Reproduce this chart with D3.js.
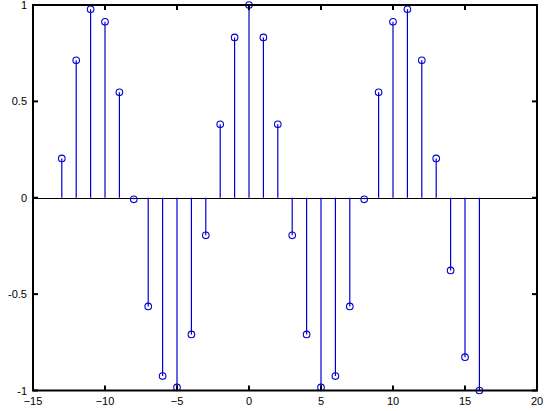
<!DOCTYPE html>
<html>
<head>
<meta charset="utf-8">
<script src="https://cdn.jsdelivr.net/npm/d3@7"></script>
<style>
  html, body { margin: 0; padding: 0; background: #fff; }
  svg { display: block; }
  .tick-label { font-family: "Liberation Sans", Arial, sans-serif; font-size: 11px; fill: #000; }
</style>
</head>
<body>
<div id="chart"></div>
<script>
// Sample indices and stem values
const nValues = [-13, -12, -11, -10, -9, -8, -7, -6, -5, -4, -3, -2, -1, 0, 1, 2,
                 3, 4, 5, 6, 7, 8, 9, 10, 11, 12, 13, 14, 15, 16];
const stemValues = [0.204, 0.713, 0.978, 0.913, 0.547, -0.008, -0.564, -0.925, -0.984, -0.709, -0.195, 0.381, 0.832, 1.0, 0.832, 0.381,
                    -0.195, -0.709, -0.984, -0.925, -0.564, -0.008, 0.547, 0.913, 0.978, 0.713, 0.204, -0.377, -0.827, -1.0];
const xTicks = [-15, -10, -5, 0, 5, 10, 15, 20];
const yTicks = [-1, -0.5, 0, 0.5, 1];
const xDomain = [-15, 20];
const yDomain = [-1, 1];

const width = 547, height = 411;
const margin = { top: 5, right: 10, bottom: 20.5, left: 33 };
const stemColor = '#0000d0';

const svg = d3.select('#chart').append('svg')
  .attr('width', width)
  .attr('height', height);

const xScale = d3.scaleLinear().domain(xDomain).range([margin.left, width - margin.right]);
const yScale = d3.scaleLinear().domain(yDomain).range([height - margin.bottom, margin.top]);

const points = nValues.map((n, i) => ({ n: n, v: stemValues[i] }));

// Baseline across the axes
svg.append('line')
  .attr('x1', xScale(xDomain[0])).attr('x2', xScale(xDomain[1]))
  .attr('y1', Math.round(yScale(0)) + 0.5).attr('y2', Math.round(yScale(0)) + 0.5)
  .style('stroke', '#000').style('stroke-width', '1px');

// Stems
svg.selectAll('.stem')
  .data(points)
  .enter()
  .append('line')
  .attr('class', 'stem')
  .attr('x1', d => xScale(d.n)).attr('x2', d => xScale(d.n))
  .attr('y1', yScale(0)).attr('y2', d => yScale(d.v))
  .style('stroke', stemColor).style('stroke-width', '1.2px');

// Markers
svg.selectAll('.marker')
  .data(points)
  .enter()
  .append('circle')
  .attr('class', 'marker')
  .attr('cx', d => xScale(d.n))
  .attr('cy', d => yScale(d.v))
  .attr('r', 3.3)
  .style('fill', 'none')
  .style('stroke', stemColor)
  .style('stroke-width', '1.1px');

// Box with inward ticks on all sides
const x0 = xScale(xDomain[0]), x1 = xScale(xDomain[1]);
const y0 = yScale(yDomain[0]), y1 = yScale(yDomain[1]);
const tickLen = 5;

svg.append('rect')
  .attr('x', x0).attr('y', y1)
  .attr('width', x1 - x0).attr('height', y0 - y1)
  .style('fill', 'none').style('stroke', '#000').style('stroke-width', '2px');

xTicks.forEach(t => {
  const x = xScale(t);
  svg.append('line').attr('x1', x).attr('x2', x).attr('y1', y0).attr('y2', y0 - tickLen)
    .style('stroke', '#000').style('stroke-width', '2px');
  svg.append('line').attr('x1', x).attr('x2', x).attr('y1', y1).attr('y2', y1 + tickLen)
    .style('stroke', '#000').style('stroke-width', '2px');
  svg.append('text').attr('class', 'tick-label')
    .attr('x', x).attr('y', y0 + 14)
    .attr('text-anchor', 'middle')
    .text(d3.format('d')(t));
});

yTicks.forEach(t => {
  const y = yScale(t);
  svg.append('line').attr('x1', x0).attr('x2', x0 + tickLen).attr('y1', y).attr('y2', y)
    .style('stroke', '#000').style('stroke-width', '2px');
  svg.append('line').attr('x1', x1).attr('x2', x1 - tickLen).attr('y1', y).attr('y2', y)
    .style('stroke', '#000').style('stroke-width', '2px');
  svg.append('text').attr('class', 'tick-label')
    .attr('x', x0 - 6).attr('y', y + 4)
    .attr('text-anchor', 'end')
    .text(t === 0 ? '0' : String(t));
});
</script>
</body>
</html>
